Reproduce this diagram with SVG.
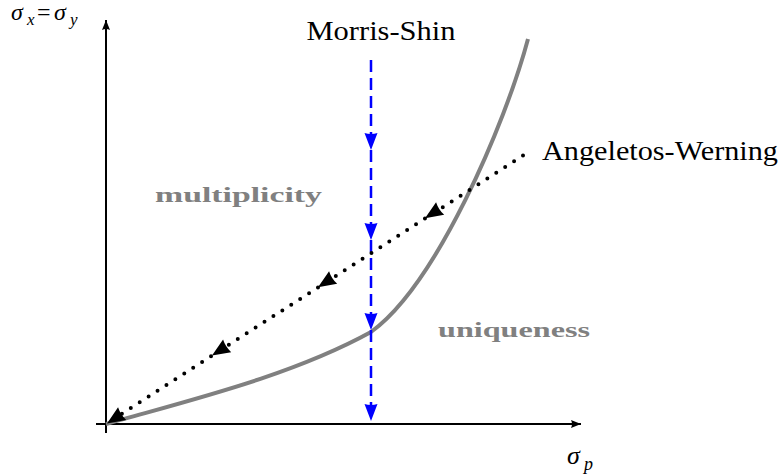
<svg xmlns="http://www.w3.org/2000/svg" width="784" height="474" viewBox="0 0 784 474">
<style>
  .lbl { font-family: 'Liberation Serif', 'DejaVu Serif', serif; fill: #000; }
  .region { font-family: 'Liberation Serif', 'DejaVu Serif', serif; font-weight: bold; fill: #808080; font-size: 22px; }
  .math { font-family: 'Liberation Serif', 'DejaVu Serif', serif; font-style: italic; fill: #000; }
  .axis { stroke: #000; stroke-width: 2; fill: none; }
  .curve { stroke: #808080; stroke-width: 4; fill: none; }
  .ms { stroke: #0000ff; stroke-width: 2.5; stroke-dasharray: 12 6; fill: none; }
  .aw { stroke: #000; stroke-width: 4; stroke-linecap: round; stroke-dasharray: 0 10.6; fill: none; }
</style>
<defs>
  <path id="ahBlue" d="M0,0 L-17,-6.5 Q-15,0 -17,6.5 Z" fill="#0000ff"/>
  <path id="ahBlack" d="M0,0 L-18,-7.5 Q-16,0 -18,7.5 Z" fill="#000"/>
  <marker id="axArrow" viewBox="-10 -5 11 10" refX="0" refY="0" markerWidth="11" markerHeight="10" markerUnits="userSpaceOnUse" orient="auto">
    <path d="M0,0 L-10,-4 Q-8,0 -10,4 Z" fill="#000"/>
  </marker>
</defs>

<g id="axes">
  <line class="axis" x1="106" y1="433" x2="106" y2="20" marker-end="url(#axArrow)"/>
  <line class="axis" x1="96" y1="424" x2="581" y2="424" marker-end="url(#axArrow)"/>
</g>

<g id="threshold-curve">
  <path class="curve" d="M106,424 C190,400 291,376 371,332 C436,285 505,125 528,39"/>
</g>

<g id="connectors">
  <g id="morris-shin-path">
    <line class="ms" x1="371" y1="60" x2="371" y2="418"/>
    <use href="#ahBlue" transform="translate(371,150) rotate(90)"/>
    <use href="#ahBlue" transform="translate(371,240) rotate(90)"/>
    <use href="#ahBlue" transform="translate(371,330) rotate(90)"/>
    <use href="#ahBlue" transform="translate(371,421) rotate(90)"/>
  </g>
  <g id="angeletos-werning-path">
    <line class="aw" x1="523" y1="155.5" x2="112" y2="420"/>
    <use href="#ahBlack" transform="translate(425,218.2) rotate(147.2)"/>
    <use href="#ahBlack" transform="translate(318,287.2) rotate(147.2)"/>
    <use href="#ahBlack" transform="translate(212,355.6) rotate(147.2)"/>
    <use href="#ahBlack" transform="translate(107,423.4) rotate(147.2)"/>
  </g>
</g>

<g id="label-morris-shin">
  <text class="lbl" x="381" y="39.5" font-size="27" text-anchor="middle" textLength="149" lengthAdjust="spacingAndGlyphs">Morris-Shin</text>
</g>
<g id="label-angeletos-werning">
  <text class="lbl" x="542" y="159.5" font-size="27" textLength="236" lengthAdjust="spacingAndGlyphs">Angeletos-Werning</text>
</g>
<g id="label-multiplicity">
  <text class="region" x="155" y="202" textLength="167" lengthAdjust="spacingAndGlyphs">multiplicity</text>
</g>
<g id="label-uniqueness">
  <text class="region" x="438" y="337" textLength="152" lengthAdjust="spacingAndGlyphs">uniqueness</text>
</g>
<g id="label-y-axis">
  <text class="math" font-size="24"><tspan x="11" y="20">σ</tspan><tspan x="27" y="25" font-size="17">x</tspan><tspan x="37" y="20" font-style="normal">=</tspan><tspan x="54" y="20">σ</tspan><tspan x="70" y="25" font-size="17">y</tspan></text>
</g>
<g id="label-x-axis">
  <text class="math" font-size="26"><tspan x="567" y="464">σ</tspan><tspan x="584" y="470" font-size="18">p</tspan></text>
</g>
</svg>
